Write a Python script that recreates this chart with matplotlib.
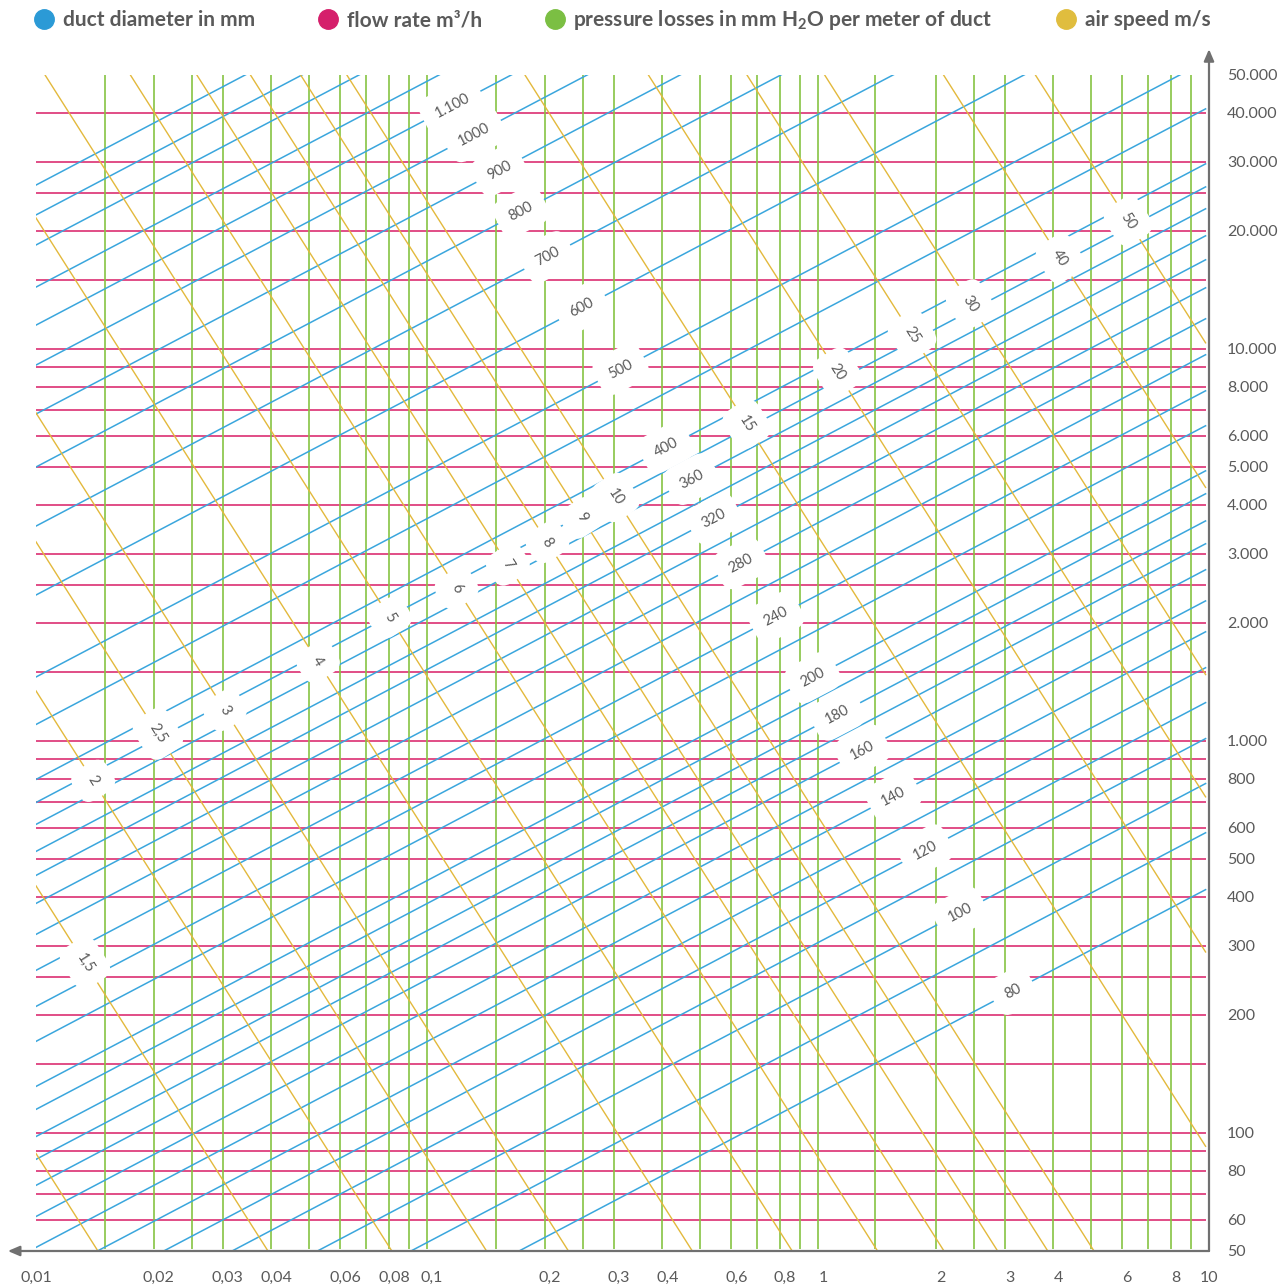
import numpy as np
import matplotlib
matplotlib.use('Agg')
import matplotlib.pyplot as plt
import matplotlib.transforms as mtransforms
from matplotlib.lines import Line2D

plt.rcParams['font.family'] = ['Lato', 'DejaVu Sans']
plt.rcParams['mathtext.fontset'] = 'custom'
plt.rcParams['mathtext.rm'] = 'Lato'
plt.rcParams['mathtext.bf'] = 'Lato:bold'

### Data
# grid: flow rate (m3/h) and pressure losses (mm H2O per m)
flow_lines = [60, 70, 80, 90, 100, 150, 200, 250, 300, 400, 500, 600, 700, 800, 900,
              1000, 1500, 2000, 2500, 3000, 4000, 5000, 6000, 7000, 8000, 9000,
              10000, 15000, 20000, 25000, 30000, 40000]
loss_lines = [0.015, 0.02, 0.025, 0.03, 0.04, 0.05, 0.06, 0.07, 0.08, 0.09,
              0.1, 0.15, 0.2, 0.25, 0.3, 0.4, 0.5, 0.6, 0.7, 0.8, 0.9,
              1, 1.4, 2, 2.5, 3, 4, 5, 6, 7, 8, 9]

# duct diameter lines: flow rate where each line crosses 1 mm H2O/m
duct_diam = [80, 90, 100, 110, 120, 130, 140, 150, 160, 170, 180, 190, 200,
             220, 240, 260, 280, 300, 320, 340, 360, 380, 400, 450,
             500, 600, 700, 800, 900, 1000, 1100, 1200, 1300, 1400, 1500]
duct_q_at_1mm = [126, 176, 235, 306, 378, 464, 573, 687, 825, 961, 1099, 1289, 1475,
                 1922, 2360, 2917, 3603, 4322, 5095, 5866, 6875, 7818, 8952, 12364,
                 16340, 26450, 39650, 56100, 76590, 102100, 129100, 161400, 206700,
                 246600, 293900]
duct_slope = 0.525  # slope of the blue lines in log-log

duct_label_d = [80, 100, 120, 140, 160, 180, 200, 240, 280, 320, 360, 400,
                500, 600, 700, 800, 900, 1000, 1100]
duct_label_txt = ['80', '100', '120', '140', '160', '180', '200', '240', '280', '320',
                  '360', '400', '500', '600', '700', '800', '900', '1000', '1.100']
duct_label_p = [3.15, 2.31, 1.88, 1.56, 1.30, 1.12, 0.97, 0.78, 0.635, 0.542, 0.476,
                0.409, 0.313, 0.249, 0.203, 0.174, 0.153, 0.132, 0.116]

# air speed lines: pressure loss where each line crosses 50 m3/h
speeds = [1, 1.5, 2, 2.5, 3, 4, 5, 6, 7, 8, 9, 10, 15, 20, 25, 30, 40, 50]
speed_p_at_50 = [0.0144, 0.0392, 0.0813, 0.142, 0.230, 0.477, 0.859, 1.42, 2.10,
                 2.88, 3.87, 5.08, 14.5, 30.0, 53.6, 84.7, 170.6, 293]
speed_slope = 1.57  # descending slope of the yellow lines in log-log

speed_label_v = [1.5, 2, 2.5, 3, 4, 5, 6, 7, 8, 9, 10, 15, 20, 25, 30, 40, 50]
speed_label_txt = ['1,5', '2', '2,5', '3', '4', '5', '6', '7', '8', '9', '10',
                   '15', '20', '25', '30', '40', '50']
speed_label_p = [0.01334, 0.0140, 0.0205, 0.0304, 0.0526, 0.0803, 0.119, 0.161, 0.203,
                 0.249, 0.303, 0.658, 1.12, 1.74, 2.45, 4.16, 6.21]

yticks = [50, 60, 80, 100, 200, 300, 400, 500, 600, 800, 1000, 2000, 3000, 4000,
          5000, 6000, 8000, 10000, 20000, 30000, 40000, 50000]
yticklabels = ['50', '60', '80', '100', '200', '300', '400', '500', '600', '800',
               '1.000', '2.000', '3.000', '4.000', '5.000', '6.000', '8.000',
               '10.000', '20.000', '30.000', '40.000', '50.000']
xticks = [0.01, 0.02, 0.03, 0.04, 0.06, 0.08, 0.1, 0.2, 0.3, 0.4, 0.6, 0.8,
          1, 2, 3, 4, 6, 8, 10]
xticklabels = ['0,01', '0,02', '0,03', '0,04', '0,06', '0,08', '0,1', '0,2', '0,3',
               '0,4', '0,6', '0,8', '1', '2', '3', '4', '6', '8', '10']

### Colours
c_blue = '#3aa6dd'
c_mag = '#dc2f72'
c_green = '#86c443'
c_yel = '#e3b93c'
c_text = '#5a5a5a'
c_axis = '#707070'

### Figure
fig = plt.figure(figsize=(12.85, 12.88), dpi=100)
ax = fig.add_axes([36 / 1285, 37 / 1288, 1173 / 1285, 1176 / 1288])
ax.set_xscale('log')
ax.set_yscale('log')
ax.set_xlim(0.01, 10)
ax.set_ylim(50, 50000)
for s in ax.spines.values():
    s.set_visible(False)

p_end = 9.8
ax.hlines(flow_lines, 0.01, p_end, color=c_mag, lw=1.2, zorder=1)
ax.vlines(loss_lines, 50.5, 50000, color=c_green, lw=1.2, zorder=1)

p_span = np.array([0.01, p_end])
for q1 in duct_q_at_1mm:
    ax.plot(p_span, q1 * p_span ** duct_slope, color=c_blue, lw=1.1, zorder=2)

for pb in speed_p_at_50:
    ax.plot(p_span, 50 * (pb / p_span) ** speed_slope, color=c_yel, lw=1.0, zorder=2)

# line labels on white boxes
box = dict(boxstyle='round,pad=0.9', fc='white', ec='none')
for d, txt, p in zip(duct_label_d, duct_label_txt, duct_label_p):
    q = duct_q_at_1mm[duct_diam.index(d)] * p ** duct_slope
    ax.text(p, q, txt, fontsize=10.5, color=c_text, rotation=27.7,
            rotation_mode='anchor', ha='center', va='center', bbox=box, zorder=5)

for v, txt, p in zip(speed_label_v, speed_label_txt, speed_label_p):
    pb = speed_p_at_50[speeds.index(v)]
    q = 50 * (pb / p) ** speed_slope
    ax.text(p, q, txt, fontsize=10.5, color=c_text, rotation=-57.5,
            rotation_mode='anchor', ha='center', va='center', bbox=box, zorder=5)

# axes with arrows
ax.annotate('', xy=(-0.024, 0), xytext=(1.0, 0), xycoords='axes fraction',
            textcoords='axes fraction', annotation_clip=False,
            arrowprops=dict(arrowstyle='-|>,head_length=0.7,head_width=0.3',
                            color=c_axis, lw=1.6, shrinkA=0, shrinkB=0))
ax.annotate('', xy=(1.0, 1.022), xytext=(1.0, 0), xycoords='axes fraction',
            textcoords='axes fraction', annotation_clip=False,
            arrowprops=dict(arrowstyle='-|>,head_length=0.7,head_width=0.3',
                            color=c_axis, lw=1.6, shrinkA=0, shrinkB=0))

# tick labels
ax.minorticks_off()
ax.set_xticks([])
ax.yaxis.tick_right()
ax.set_yticks(yticks, yticklabels)
ax.tick_params(axis='y', length=0, pad=13, labelsize=11.5, labelcolor=c_text)

trans = mtransforms.blended_transform_factory(ax.transData, ax.transAxes)
for i, (xv, lab) in enumerate(zip(xticks, xticklabels)):
    dx = 0 if i in (0, len(xticks) - 1) else 0.05
    t = trans + mtransforms.ScaledTranslation(dx, 0, fig.dpi_scale_trans)
    ax.text(xv, -0.023, lab, transform=t, ha='center', va='center',
            fontsize=11.5, color=c_text)

# legend
handles = [Line2D([], [], marker='o', ls='', markersize=14, color=c)
           for c in ['#2b9ad6', '#d51f6b', '#7bbf43', '#e0bd3e']]
labels = ['duct diameter in mm', 'flow rate m³/h',
          r'pressure losses in mm H$_\mathbf{2}$O per meter of duct', 'air speed m/s']
leg = fig.legend(handles, labels, loc='upper center', bbox_to_anchor=(0.484, 1.008),
                 ncol=4, frameon=False, handlelength=1.0, handletextpad=0.4,
                 columnspacing=3.0, prop={'size': 15, 'weight': 'bold'})
for t in leg.get_texts():
    t.set_color(c_text)

fig.savefig('out.png', dpi=100, facecolor='white')
